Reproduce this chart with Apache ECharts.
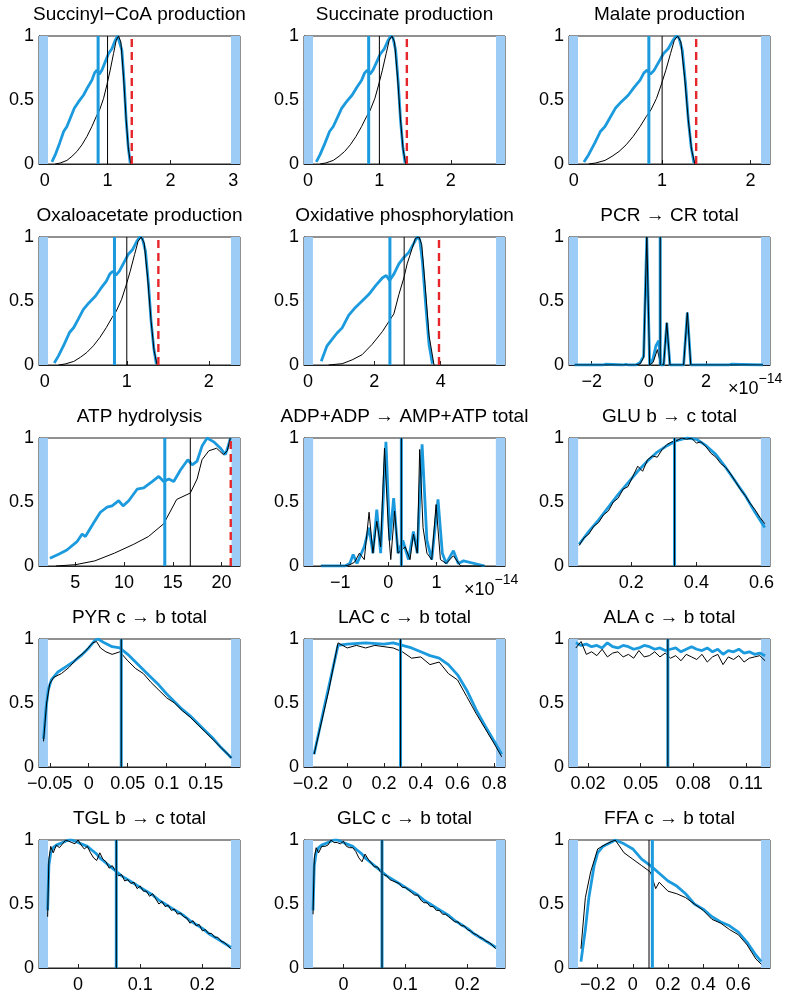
<!DOCTYPE html>
<html><head><meta charset="utf-8">
<script src="https://cdn.jsdelivr.net/npm/echarts@6/dist/echarts.min.js"></script>
<style>html,body{margin:0;padding:0;background:#fff}#c{width:800px;height:1001px}</style>
</head><body><div id="c"></div>
<script>
// ---------- titles ----------
const titles = ["Succinyl\u2212CoA production","Succinate production","Malate production",
 "Oxaloacetate production","Oxidative phosphorylation","PCR \u2192 CR total",
 "ATP hydrolysis","ADP+ADP \u2192 AMP+ATP total","GLU b \u2192 c total",
 "PYR c \u2192 b total","LAC c \u2192 b total","ALA c \u2192 b total",
 "TGL b \u2192 c total","GLC c \u2192 b total","FFA c \u2192 b total"];

// ---------- x tick labels per panel ----------
const ticks = [[0,1,2,3],[0,1,2],[0,1,2],[0,1,2],[0,2,4],[-2,0,2],[5,10,15,20],[-1,0,1],[0.2,0.4,0.6],
 [-0.05,0,0.05,0.1,0.15],[-0.2,0,0.2,0.4,0.6,0.8],[0.02,0.05,0.08,0.11],[0,0.1,0.2],[0,0.1,0.2],[-0.2,0,0.2,0.4,0.6]];
const xMin = [-0.09,-0.056,-0.053,-0.07,-0.12,-2.795,1.27,-1.75,0.009,-0.0638,-0.235,0.0091,-0.0629,-0.0636,-0.363];
const xMax = [3.106,2.76,2.22,2.38,5.94,4.245,21.9,2.42,0.626,0.194,0.858,0.1238,0.2606,0.2608,0.78];
// bounds (light blue bands: lower bound end / upper bound start)
const lowBound = [0.053,0.07,0.049,0.04,0.15,-2.48,2.19,-1.56,0.037,-0.0523,-0.186,0.0142,-0.0484,-0.049,-0.312];
const highBound = [2.963,2.634,2.118,2.27,5.67,3.93,21.03,2.23,0.598,0.1825,0.809,0.1187,0.2461,0.2463,0.729];
// vertical markers (blue, black, red dashed; null = none)
const markBlue = [0.85,0.85,0.85,0.85,2.47,0.4,14.18,0.27,0.333,0.0417,0.29,0.0655,0.0615,0.0623,0.111];
const markBlack = [1.0,1.0,1.0,1.0,2.9,0.4,16.8,0.27,0.333,0.0417,0.29,0.0655,0.0615,0.0623,0.092];
const markRed = [1.385,1.385,1.385,1.385,3.95,null,20.95,null,null,null,null,null,null,null,null];

// ---------- curves ----------
// TCA-cycle production (panels 1-4 share identical distributions)
const tcaBlueX = [0.116,0.169,0.238,0.302,0.354,0.407,0.471,0.54,0.619,0.683,0.751,0.794,0.831,0.868,0.91,0.963,1.016,1.069,1.122,1.159,1.19,1.228,1.265,1.296,1.328,1.36];
const tcaBlueY = [0.016,0.073,0.163,0.254,0.293,0.357,0.435,0.487,0.539,0.598,0.655,0.712,0.733,0.702,0.733,0.798,0.863,0.9,0.966,1.0,0.987,0.889,0.63,0.345,0.137,0.008];
const tcaBlackX = [0.169,0.249,0.354,0.434,0.513,0.593,0.672,0.751,0.82,0.873,0.937,0.989,1.042,1.095,1.138,1.175,1.212,1.254,1.296,1.333,1.37];
const tcaBlackY = [0,0.008,0.028,0.06,0.098,0.15,0.215,0.293,0.37,0.422,0.513,0.617,0.733,0.863,0.966,1.0,0.953,0.681,0.345,0.111,0];
// Oxidative phosphorylation
const oxBlueX = [0.40,0.574,0.725,0.877,1.03,1.23,1.43,1.63,1.83,2.04,2.24,2.36,2.46,2.59,2.74,2.89,3.04,3.19,3.29,3.37,3.45,3.55,3.65,3.75];
const oxBlueY = [0.03,0.15,0.2,0.25,0.29,0.39,0.45,0.5,0.55,0.62,0.68,0.7,0.66,0.71,0.79,0.84,0.88,0.95,1.0,0.98,0.81,0.47,0.16,0.01];
const oxBlackX = [0.62,1.03,1.33,1.63,1.93,2.24,2.44,2.59,2.74,2.89,2.99,3.14,3.24,3.35,3.43,3.53,3.65,3.8];
const oxBlackY = [0,0.01,0.04,0.08,0.16,0.26,0.34,0.4,0.55,0.68,0.79,0.91,0.99,1.0,0.94,0.63,0.23,0];
// PCR -> CR (x in 1e-14)
const pcrBlueX = [-2.6,-1.6,-1.52,-1.45,-0.9,-0.8,-0.72,-0.45,-0.3,-0.18,-0.07,0.03,0.15,0.25,0.35,0.42,0.52,0.63,0.74,1.22,1.35,1.47,2.8,2.88,2.95,4.0];
const pcrBlueY = [0,0,0.006,0,0,0.005,0,0,0.02,0.07,1.0,0,0.05,0.15,0.19,0,0,0.33,0,0,0.41,0,0,0.006,0,0];
const pcrBlackX = [-2.6,-0.45,-0.3,-0.18,-0.07,0.03,0.15,0.3,0.42,0.52,0.63,0.74,1.22,1.35,1.47,4.0];
const pcrBlackY = [0,0,0.01,0.06,1.0,0,0.02,0.12,0,0,0.33,0,0,0.41,0,0];
// ATP hydrolysis
const atpBlueX = [2.39,3.34,4.13,5.17,5.7,6.03,6.9,7.57,8.26,8.77,9.45,9.9,10.48,11.34,12.02,12.88,13.56,14.07,14.59,15.1,15.79,16.54,16.99,17.5,18.02,18.53,19.2,19.9,20.4,20.7,20.93];
const atpBlueY = [0.06,0.094,0.125,0.19,0.25,0.23,0.34,0.42,0.46,0.47,0.51,0.47,0.51,0.6,0.61,0.66,0.7,0.66,0.68,0.66,0.75,0.83,0.79,0.82,0.94,1.0,0.97,0.92,0.87,0.94,1.0];
const atpBlackX = [3,5,7,9,11,12.5,14.07,15.4,16.8,17.5,18.0,18.7,19.5,20.2,20.6,20.9];
const atpBlackY = [0,0.01,0.04,0.1,0.17,0.23,0.33,0.52,0.57,0.68,0.83,0.9,0.92,0.87,0.9,1.0];
// ADP+ADP -> AMP+ATP (x in 1e-14)
const adpBlueX = [-1.4,-0.9,-0.8,-0.73,-0.65,-0.5,-0.4,-0.32,-0.24,-0.16,-0.05,0.03,0.11,0.2,0.3,0.42,0.52,0.6,0.7,0.8,0.9,1.03,1.12,1.2,1.35,1.45,1.56,2.0];
const adpBlueY = [0,0,0.02,0.09,0.02,0.15,0.3,0.1,0.44,0.1,0.97,0.2,0.53,0.1,0.2,0.05,0.27,0.1,0.95,0.2,0.05,0.52,0.1,0.02,0.12,0.02,0.04,0];
const adpBlackX = [-1.4,-0.9,-0.8,-0.7,-0.6,-0.5,-0.4,-0.32,-0.24,-0.16,-0.08,0.0,0.05,0.13,0.2,0.35,0.45,0.52,0.6,0.65,0.72,0.8,0.9,0.99,1.08,1.2,1.35,1.5,2.0];
const adpBlackY = [0,0,0.01,0.03,0.1,0.05,0.42,0.1,0.35,0.15,0.92,0.3,0.05,0.43,0.1,0.15,0.05,0.25,0.1,0.91,0.3,0.1,0.05,0.48,0.05,0.02,0.08,0,0];
// GLU b -> c
const gluBlueX = [0.04,0.07,0.1,0.13,0.16,0.19,0.22,0.25,0.28,0.31,0.34,0.37,0.4,0.43,0.46,0.49,0.52,0.55,0.58,0.61];
const gluBlueY = [0.17,0.27,0.36,0.46,0.56,0.65,0.74,0.82,0.89,0.94,0.98,1.0,0.99,0.94,0.87,0.77,0.66,0.55,0.42,0.3];
const gluBlackX = [0.04,0.055,0.07,0.085,0.1,0.115,0.13,0.145,0.16,0.175,0.19,0.205,0.22,0.235,0.25,0.265,0.28,0.295,0.31,0.325,0.34,0.355,0.37,0.385,0.4,0.415,0.43,0.445,0.46,0.475,0.49,0.505,0.52,0.535,0.55,0.565,0.58,0.595,0.61];
const gluBlackY = [0.16,0.22,0.25,0.31,0.34,0.4,0.43,0.5,0.53,0.6,0.62,0.7,0.78,0.74,0.83,0.86,0.85,0.91,0.95,0.97,0.98,1.0,0.99,1.0,0.96,0.97,0.93,0.88,0.85,0.8,0.77,0.72,0.66,0.6,0.55,0.49,0.44,0.38,0.33];
// PYR c -> b
const pyrBlueX = [-0.058,-0.055,-0.052,-0.048,-0.04,-0.03,-0.02,-0.01,0.0,0.008,0.012,0.02,0.03,0.04,0.05,0.06,0.07,0.08,0.09,0.1,0.11,0.12,0.13,0.14,0.15,0.16,0.17,0.18,0.183];
const pyrBlueY = [0.22,0.45,0.6,0.68,0.74,0.78,0.82,0.87,0.93,0.99,1.0,0.97,0.94,0.93,0.88,0.82,0.76,0.7,0.64,0.57,0.51,0.45,0.4,0.34,0.28,0.22,0.15,0.09,0.07];
const pyrBlackX = [-0.058,-0.054,-0.05,-0.045,-0.035,-0.025,-0.015,-0.005,0.005,0.01,0.015,0.022,0.03,0.04,0.05,0.06,0.07,0.08,0.09,0.1,0.11,0.12,0.13,0.14,0.15,0.16,0.17,0.18,0.183];
const pyrBlackY = [0.2,0.5,0.65,0.7,0.73,0.78,0.85,0.9,0.97,0.98,0.93,0.9,0.88,0.9,0.83,0.77,0.73,0.66,0.6,0.54,0.5,0.44,0.39,0.33,0.27,0.21,0.15,0.09,0.07];
// LAC c -> b
const lacBlueX = [-0.18,-0.12,-0.05,0.0,0.1,0.2,0.25,0.3,0.35,0.4,0.45,0.5,0.55,0.6,0.65,0.7,0.75,0.8,0.84];
const lacBlueY = [0.1,0.5,0.95,0.96,0.97,0.96,0.97,0.95,0.93,0.9,0.87,0.85,0.8,0.72,0.6,0.45,0.32,0.2,0.1];
const lacBlackX = [-0.18,-0.1,-0.05,0.0,0.05,0.1,0.15,0.2,0.25,0.3,0.35,0.4,0.45,0.5,0.55,0.6,0.65,0.7,0.75,0.8,0.84];
const lacBlackY = [0.1,0.6,0.97,0.93,0.95,0.93,0.95,0.94,0.93,0.9,0.85,0.86,0.8,0.82,0.73,0.68,0.55,0.42,0.3,0.18,0.08];
// ALA c -> b
const alaBlueX = [0.013,0.016,0.019,0.022,0.025,0.028,0.031,0.034,0.037,0.04,0.043,0.046,0.049,0.052,0.055,0.058,0.061,0.064,0.067,0.07,0.073,0.076,0.079,0.082,0.085,0.088,0.091,0.094,0.097,0.1,0.103,0.106,0.109,0.112,0.115,0.118,0.121];
const alaBlueY = [0.97,0.95,0.96,0.94,0.95,0.93,0.97,0.94,0.93,0.95,0.94,0.92,0.93,0.95,0.94,0.92,0.93,0.91,0.92,0.93,0.9,0.92,0.94,0.92,0.91,0.93,0.9,0.92,0.88,0.91,0.9,0.92,0.89,0.9,0.88,0.89,0.87];
const alaBlackX = alaBlueX;
const alaBlackY = [0.93,0.98,0.88,0.9,0.87,0.92,0.86,0.89,0.9,0.86,0.88,0.85,0.91,0.86,0.87,0.9,0.86,0.89,0.85,0.87,0.83,0.88,0.86,0.84,0.88,0.82,0.86,0.88,0.8,0.86,0.84,0.87,0.82,0.85,0.86,0.87,0.83];
// TGL b -> c
const tglBlueX = [-0.049,-0.047,-0.044,-0.04,-0.035,-0.03,-0.025,-0.02,-0.015,-0.01,-0.005,0,0.005,0.01,0.015,0.02,0.025,0.03,0.035,0.04,0.045,0.05,0.055,0.06,0.07,0.08,0.09,0.1,0.11,0.12,0.13,0.14,0.15,0.16,0.17,0.18,0.19,0.2,0.21,0.22,0.23,0.24,0.246];
const tglBlueY = [0.45,0.8,0.9,0.94,0.96,0.97,0.98,0.99,1.0,1.0,0.99,0.98,0.97,0.96,0.95,0.93,0.91,0.89,0.86,0.84,0.82,0.8,0.78,0.76,0.72,0.69,0.66,0.63,0.6,0.57,0.53,0.5,0.47,0.44,0.41,0.37,0.34,0.31,0.27,0.24,0.21,0.18,0.16];
const tglBlackX = [-0.049,-0.047,-0.044,-0.04,-0.035,-0.03,-0.025,-0.02,-0.015,-0.01,-0.005,0,0.005,0.01,0.015,0.02,0.025,0.03,0.035,0.04,0.045,0.05,0.055,0.06,0.065,0.07,0.075,0.08,0.085,0.09,0.095,0.1,0.105,0.11,0.115,0.12,0.125,0.13,0.135,0.14,0.145,0.15,0.155,0.16,0.165,0.17,0.175,0.18,0.185,0.19,0.195,0.2,0.205,0.21,0.215,0.22,0.225,0.23,0.235,0.24,0.246];
const tglBlackY = [0.4,0.85,0.95,0.9,0.96,0.94,0.97,1.0,0.99,0.98,0.97,1.0,0.96,0.93,0.95,0.9,0.86,0.84,0.9,0.85,0.83,0.78,0.8,0.76,0.72,0.73,0.68,0.69,0.66,0.67,0.62,0.64,0.6,0.6,0.56,0.58,0.54,0.5,0.52,0.48,0.49,0.45,0.46,0.42,0.43,0.4,0.39,0.35,0.37,0.33,0.34,0.29,0.3,0.27,0.27,0.24,0.24,0.21,0.2,0.18,0.15];
// GLC c -> b
const glcBlueX = tglBlueX;
const glcBlueY = [0.45,0.8,0.9,0.94,0.96,0.97,0.98,0.99,1.0,1.0,0.99,0.98,0.97,0.96,0.95,0.93,0.91,0.89,0.86,0.84,0.82,0.8,0.78,0.76,0.72,0.69,0.66,0.63,0.6,0.57,0.53,0.5,0.47,0.44,0.41,0.37,0.34,0.31,0.27,0.24,0.21,0.18,0.16];
const glcBlackX = tglBlackX;
const glcBlackY = [0.42,0.86,0.94,0.9,0.95,0.95,0.96,1.0,0.98,0.98,0.97,0.99,0.95,0.94,0.94,0.91,0.86,0.83,0.89,0.85,0.82,0.79,0.79,0.75,0.73,0.72,0.69,0.68,0.67,0.66,0.63,0.63,0.61,0.59,0.57,0.57,0.53,0.51,0.51,0.48,0.48,0.45,0.45,0.42,0.42,0.4,0.38,0.36,0.36,0.33,0.33,0.3,0.29,0.27,0.26,0.24,0.23,0.21,0.2,0.18,0.15];
// FFA c -> b
const ffaBlueX = [-0.295,-0.27,-0.25,-0.22,-0.2,-0.17,-0.14,-0.1,-0.05,0.0,0.05,0.1,0.15,0.2,0.25,0.3,0.35,0.4,0.45,0.5,0.55,0.6,0.65,0.7,0.73];
const ffaBlueY = [0.05,0.3,0.55,0.8,0.9,0.95,0.97,1.0,0.97,0.93,0.85,0.8,0.74,0.68,0.64,0.58,0.5,0.46,0.4,0.36,0.33,0.28,0.2,0.1,0.05];
const ffaBlackX = [-0.295,-0.27,-0.24,-0.2,-0.15,-0.1,-0.05,0.0,0.05,0.1,0.13,0.15,0.2,0.25,0.3,0.35,0.4,0.45,0.5,0.55,0.6,0.65,0.7,0.73];
const ffaBlackY = [0.15,0.55,0.75,0.93,0.97,1.0,0.9,0.85,0.8,0.75,0.62,0.67,0.6,0.58,0.55,0.5,0.45,0.38,0.35,0.3,0.26,0.18,0.07,0.03];

const blueXs = [tcaBlueX,tcaBlueX,tcaBlueX,tcaBlueX,oxBlueX,pcrBlueX,atpBlueX,adpBlueX,gluBlueX,pyrBlueX,lacBlueX,alaBlueX,tglBlueX,glcBlueX,ffaBlueX];
const blueYs = [tcaBlueY,tcaBlueY,tcaBlueY,tcaBlueY,oxBlueY,pcrBlueY,atpBlueY,adpBlueY,gluBlueY,pyrBlueY,lacBlueY,alaBlueY,tglBlueY,glcBlueY,ffaBlueY];
const blackXs = [tcaBlackX,tcaBlackX,tcaBlackX,tcaBlackX,oxBlackX,pcrBlackX,atpBlackX,adpBlackX,gluBlackX,pyrBlackX,lacBlackX,alaBlackX,tglBlackX,glcBlackX,ffaBlackX];
const blackYs = [tcaBlackY,tcaBlackY,tcaBlackY,tcaBlackY,oxBlackY,pcrBlackY,atpBlackY,adpBlackY,gluBlackY,pyrBlackY,lacBlackY,alaBlackY,tglBlackY,glcBlackY,ffaBlackY];

// ---------- layout ----------
const colLeft = [39, 304, 569];
const rowTop = [36, 237, 438, 639, 840];
const W = 201, H = 128;
const FONT = '"Liberation Sans", Arial, Helvetica, sans-serif';
const BLUE = '#1b9ade', BAND = '#9dcdf7', RED = '#e5262b', INK = '#000';

const zip = (xs, ys) => xs.map((x, i) => [x, ys[i]]);
const vline = v => [[v, 0], [v, 1]];
const fmt = v => v < 0 ? '\u2212' + String(Math.abs(v)) : String(v);

const grids = [], xAxes = [], yAxes = [], series = [], graphics = [];
const lineSeries = (i, data, color, width, z, type) => ({type: 'line', xAxisIndex: i, yAxisIndex: i, data: data,
  showSymbol: false, symbol: 'none', silent: true, z: z, clip: true,
  lineStyle: {color: color, width: width, type: type || 'solid', opacity: 1}});
for (let i = 0; i < 15; i++) {
  const r = Math.floor(i / 3), c = i % 3;
  grids.push({left: colLeft[c], top: rowTop[r], width: W, height: H, show: true,
    borderColor: '#222', borderWidth: 1, backgroundColor: 'rgba(0,0,0,0)'});
  xAxes.push({gridIndex: i, type: 'value', min: xMin[i], max: xMax[i],
    axisLine: {show: true, onZero: false, lineStyle: {color: '#222', width: 1}},
    axisTick: {show: true, inside: true, length: 4, customValues: ticks[i], lineStyle: {color: '#222'}},
    axisLabel: {show: true, customValues: ticks[i], formatter: fmt, fontFamily: FONT, fontSize: 18, color: INK, margin: 8},
    splitLine: {show: false}});
  yAxes.push({gridIndex: i, type: 'value', min: 0, max: 1, interval: 0.5,
    axisLine: {show: true, onZero: false, lineStyle: {color: '#222', width: 1}},
    axisTick: {show: true, inside: true, length: 4, lineStyle: {color: '#222'}},
    axisLabel: {fontFamily: FONT, fontSize: 18, color: INK, margin: 5, formatter: v => String(v)},
    splitLine: {show: false}});
  // bounds bands
  series.push({type: 'line', xAxisIndex: i, yAxisIndex: i, data: [], silent: true, z: 3,
    markArea: {silent: true, itemStyle: {color: BAND, opacity: 1},
      data: [[{xAxis: xMin[i]}, {xAxis: lowBound[i]}], [{xAxis: highBound[i]}, {xAxis: xMax[i]}]]}});
  // curves
  series.push(lineSeries(i, zip(blueXs[i], blueYs[i]), BLUE, 2.8, 4));
  series.push(lineSeries(i, zip(blackXs[i], blackYs[i]), INK, 1, 5));
  // vertical markers
  series.push(lineSeries(i, vline(markBlue[i]), BLUE, 3, 6));
  series.push(lineSeries(i, vline(markBlack[i]), INK, 1, 7));
  if (markRed[i] !== null) series.push(lineSeries(i, vline(markRed[i]), RED, 2.4, 8, [8, 5]));
  graphics.push({type: 'text', x: colLeft[c] + W / 2, y: rowTop[r] - 21,
    style: {text: titles[i], fontFamily: FONT, fontSize: 19, fill: INK, align: 'center', verticalAlign: 'middle',
      textAlign: 'center', textVerticalAlign: 'middle'}});
}
// x10^-14 exponent labels
const expo = [{x: 728, y: 372}, {x: 464, y: 573}];
expo.forEach(p => graphics.push({type: 'text', left: p.x, top: p.y,
  style: {rich: {a: {fontFamily: FONT, fontSize: 18, fill: INK, padding: [8, 0, 0, 0]}, b: {fontFamily: FONT, fontSize: 14, fill: INK, verticalAlign: 'top'}},
    text: '{a|\u00d710}{b|\u221214}'}}));

const chart = echarts.init(document.getElementById('c'), null, {renderer: 'canvas'});
chart.setOption({animation: false, grid: grids, xAxis: xAxes, yAxis: yAxes, series: series, graphic: graphics});
</script></body></html>
